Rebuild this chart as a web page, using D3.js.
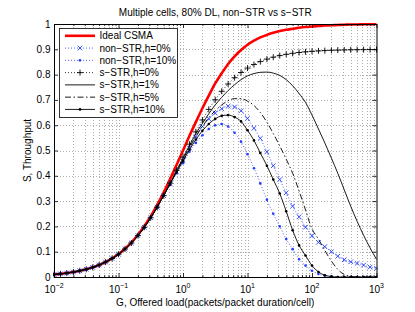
<!DOCTYPE html>
<html>
<head>
<meta charset="utf-8">
<script src="https://cdn.jsdelivr.net/npm/d3@7"></script>
<style>
body { margin: 0; background: #fff; }
svg { display: block; font-family: "Liberation Sans", Arial, sans-serif; }
</style>
</head>
<body>
<svg id="chart" width="415" height="312"></svg>
<script>

// offered load G (packets/packet duration/cell), 10 points per decade
var G = [0.01, 0.0126, 0.0158, 0.02, 0.0251, 0.0316, 0.0398, 0.0501, 0.0631, 0.0794,
         0.1, 0.126, 0.158, 0.2, 0.251, 0.316, 0.398, 0.501, 0.631, 0.794,
         1, 1.26, 1.58, 2, 2.51, 3.16, 3.98, 5.01, 6.31, 7.94,
         10, 12.6, 15.8, 20, 25.1, 31.6, 39.8, 50.1, 63.1, 79.4,
         100, 126, 158, 200, 251, 316, 398, 501, 631, 794, 1000];

var idealCSMA = [.0099, .0124, .0156, .0196, .0245, .0306, .0383, .0477, .0594, .0736,
                 .0909, .112, .136, .167, .201, .240, .285, .334, .387, .443,
                 .500, .558, .612, .667, .717, .765, .805, .842, .872, .897,
                 .918, .934, .947, .957, .965, .972, .977, .981, .985, .988,
                 .990, .992, .994, .995, .996, .997, .998, .998, .999, .999, 1.0];

var nonSTR0 = [.0099, .0124, .0155, .0196, .0244, .0305, .0381, .0475, .059, .073,
               .09, .1105, .1344, .1636, .1963, .2339, .276, .3218, .368, .415,
               .46, .51, .555, .595, .625, .648, .665, .675, .672, .657,
               .627, .588, .548, .495, .44, .385, .333, .28, .238, .197,
               .163, .137, .12, .10, .082, .068, .06, .054, .047, .039, .034];

var nonSTR10 = [.0099, .0124, .0155, .0196, .0244, .0305, .0381, .0475, .059, .073,
                .09, .1105, .1344, .1636, .1963, .2339, .276, .3218, .365, .41,
                .45, .495, .53, .56, .585, .60, .605, .595, .57, .535,
                .485, .43, .37, .305, .25, .20, .15, .11, .07, .045,
                .025, .012, .005, .002, 0, 0, 0, 0, 0, 0, 0];

var sSTR0 = [.0099, .0124, .0155, .0196, .0244, .0305, .0381, .0475, .059, .073,
             .09, .1105, .1344, .1636, .1963, .2339, .276, .3218, .3709, .4218,
             .4737, .525, .5738, .6207, .6625, .7005, .734, .7629, .7877, .8084,
             .8257, .84, .8515, .8612, .8688, .8751, .8801, .8841, .8873, .8899,
             .892, .8936, .8949, .896, .8968, .8974, .898, .8984, .8987, .899, .8992];

var sSTR1 = [.0099, .0124, .0155, .0196, .0244, .0305, .0381, .0475, .059, .073,
             .09, .1105, .1344, .1636, .1963, .2339, .276, .3218, .37, .42,
             .47, .52, .566, .607, .645, .68, .71, .737, .76, .78,
             .795, .804, .809, .81, .806, .797, .78, .756, .725, .69,
             .64, .585, .53, .47, .41, .345, .28, .22, .165, .115, .07];

var sSTR5 = [.0099, .0124, .0155, .0196, .0244, .0305, .0381, .0475, .059, .073,
             .09, .1105, .1344, .1636, .1963, .2339, .276, .3218, .369, .418,
             .465, .512, .555, .595, .63, .657, .68, .697, .705, .705,
             .695, .678, .65, .612, .567, .518, .466, .41, .34, .265,
             .19, .15, .105, .063, .03, .01, .003, 0, 0, 0, 0];

var sSTR10 = [.0099, .0124, .0155, .0196, .0244, .0305, .0381, .0475, .059, .073,
              .09, .1105, .1344, .1636, .1963, .2339, .276, .3218, .367, .414,
              .458, .503, .543, .578, .605, .625, .637, .64, .632, .615,
              .58, .54, .49, .44, .385, .33, .26, .185, .125, .085,
              .045, .02, .007, .002, 0, 0, 0, 0, 0, 0, 0];

var seriesNames = ["Ideal CSMA", "non\u2212STR,h=0%", "non\u2212STR,h=10%", "s\u2212STR,h=0%",
                   "s\u2212STR,h=1%", "s\u2212STR,h=5%", "s\u2212STR,h=10%"];
var seriesValues = [idealCSMA, nonSTR0, nonSTR10, sSTR0, sSTR1, sSTR5, sSTR10];

var decades = [-2, -1, 0, 1, 2, 3];
var yTicks = [0, 0.1, 0.2, 0.3, 0.4, 0.5, 0.6, 0.7, 0.8, 0.9, 1];

// how each series is drawn
var styles = [
  {color: "#ff0000", width: 2.6, dash: null, marker: null},
  {color: "#1f3cff", width: 0.8, dash: "1,2", marker: "x"},
  {color: "#1f3cff", width: 0.8, dash: "1,2", marker: "dot"},
  {color: "#000", width: 0.8, dash: "1,2", marker: "plus"},
  {color: "#000", width: 0.9, dash: null, marker: null},
  {color: "#000", width: 0.9, dash: "6,2.5,1.5,2.5", marker: null},
  {color: "#000", width: 0.9, dash: null, marker: "dot"}
];

var margin = {top: 24, right: 38.5, bottom: 35, left: 54};
var width = 415 - margin.left - margin.right;
var height = 312 - margin.top - margin.bottom;

var svg = d3.select("#chart");
var g = svg.append("g").attr("transform", "translate(" + margin.left + "," + margin.top + ")");

var x = d3.scaleLog().domain([0.01, 1000]).range([0, width]);
var y = d3.scaleLinear().domain([0, 1]).range([height, 0]);

// minor tick positions 2..9 in each decade
var minor = [];
decades.slice(0, -1).forEach(function(k) {
  for (var m = 2; m <= 9; m++) minor.push(m * Math.pow(10, k));
});
var majors = decades.map(function(k) { return Math.pow(10, k); });

function crisp(v) { return Math.round(v) + 0.5; }

// grid
var grid = g.append("g").attr("stroke", "#9a9a9a").attr("stroke-dasharray", "1,2").attr("stroke-width", 0.8);
grid.selectAll("line.v")
    .data(minor.concat(majors.slice(1, -1)))
  .enter().append("line")
    .attr("x1", function(d) { return crisp(x(d)); })
    .attr("x2", function(d) { return crisp(x(d)); })
    .attr("y1", 0).attr("y2", height);
grid.selectAll("line.h")
    .data(yTicks.slice(1, -1))
  .enter().append("line")
    .attr("y1", function(d) { return crisp(y(d)); })
    .attr("y2", function(d) { return crisp(y(d)); })
    .attr("x1", 0).attr("x2", width);

// curves
g.append("clipPath").attr("id", "plotclip")
  .append("rect").attr("x", -1).attr("y", -1).attr("width", width + 2).attr("height", height + 2);

var plot = g.append("g").attr("clip-path", "url(#plotclip)");

var line = d3.line()
    .x(function(d) { return x(d.g); })
    .y(function(d) { return y(d.s); })
    .curve(d3.curveMonotoneX);

function drawMarker(sel, type, color) {
  if (type === "x") {
    sel.append("path").attr("d", "M-2.3,-2.3L2.3,2.3M-2.3,2.3L2.3,-2.3")
      .attr("stroke", color).attr("stroke-width", 0.9).attr("fill", "none");
  } else if (type === "plus") {
    sel.append("path").attr("d", "M-3,0H3M0,-3V3")
      .attr("stroke", color).attr("stroke-width", 0.9).attr("fill", "none");
  } else if (type === "dot") {
    sel.append("circle").attr("r", 1.3).attr("fill", color);
  }
}

seriesValues.forEach(function(vals, i) {
  var st = styles[i];
  var data = G.map(function(gv, j) { return {g: gv, s: vals[j]}; });
  plot.append("path")
      .datum(data)
      .attr("fill", "none")
      .attr("stroke", st.color)
      .attr("stroke-width", st.width)
      .attr("stroke-dasharray", st.dash)
      .attr("d", line);
  if (st.marker) {
    plot.append("g").selectAll("g")
        .data(data)
      .enter().append("g")
        .attr("transform", function(d) { return "translate(" + x(d.g) + "," + y(d.s) + ")"; })
        .each(function() { drawMarker(d3.select(this), st.marker, st.color); });
  }
});

// axes box with inward ticks on all sides
var axes = g.append("g");
axes.append("g").attr("transform", "translate(0," + height + ")")
    .call(d3.axisBottom(x).tickValues(majors).tickSize(-4).tickSizeOuter(0).tickFormat(""));
axes.append("g").attr("transform", "translate(0," + height + ")")
    .call(d3.axisBottom(x).tickValues(minor).tickSize(-2).tickSizeOuter(0).tickFormat(""));
axes.append("g")
    .call(d3.axisTop(x).tickValues(majors).tickSize(-4).tickSizeOuter(0).tickFormat(""));
axes.append("g")
    .call(d3.axisTop(x).tickValues(minor).tickSize(-2).tickSizeOuter(0).tickFormat(""));
axes.append("g")
    .call(d3.axisLeft(y).tickValues(yTicks).tickSize(-4).tickSizeOuter(0).tickFormat(""));
axes.append("g").attr("transform", "translate(" + width + ",0)")
    .call(d3.axisRight(y).tickValues(yTicks).tickSize(-4).tickSizeOuter(0).tickFormat(""));
axes.selectAll("path.domain").attr("stroke", "#000").attr("stroke-width", 1);
axes.selectAll(".tick line").attr("stroke", "#000").attr("stroke-width", 0.8);

// tick labels
var xl = g.append("g").attr("font-size", 10).attr("fill", "#000");
xl.selectAll("text")
    .data(decades)
  .enter().append("text")
    .attr("x", function(d) { return x(Math.pow(10, d)); })
    .attr("y", height + 15.5)
    .attr("text-anchor", "middle")
    .each(function(d) {
      var t = d3.select(this);
      t.append("tspan").text("10");
      t.append("tspan").attr("dy", -4.5).attr("font-size", 7)
        .text(d < 0 ? "\u2212" + (-d) : String(d));
    });

g.append("g").attr("font-size", 10)
  .selectAll("text")
    .data(yTicks)
  .enter().append("text")
    .attr("x", -3.5)
    .attr("y", function(d) { return y(d); })
    .attr("dy", "0.35em")
    .attr("text-anchor", "end")
    .text(function(d) { return d3.format("")(d); });

// titles
svg.append("text")
    .attr("x", margin.left + width / 2).attr("y", 16)
    .attr("text-anchor", "middle").attr("font-size", 10)
    .text("Multiple cells, 80% DL, non\u2212STR vs s\u2212STR");

svg.append("text")
    .attr("x", margin.left + width / 2).attr("y", 305.5)
    .attr("text-anchor", "middle").attr("font-size", 10)
    .text("G, Offered load(packets/packet duration/cell)");

svg.append("text")
    .attr("transform", "translate(31," + (margin.top + height / 2) + ")rotate(-90)")
    .attr("text-anchor", "middle").attr("font-size", 10)
    .text("S, Throughput");

// legend
var leg = svg.append("g");
leg.append("rect")
    .attr("x", 59.5).attr("y", 28.5).attr("width", 118).attr("height", 89)
    .attr("fill", "#fff").attr("stroke", "#000").attr("stroke-width", 0.8);

var rows = leg.selectAll("g.row")
    .data(seriesNames)
  .enter().append("g")
    .attr("transform", function(d, i) { return "translate(0," + (35.8 + i * 12.27) + ")"; });

rows.append("line")
    .attr("x1", 65).attr("x2", 95).attr("y1", 0).attr("y2", 0)
    .attr("stroke", function(d, i) { return styles[i].color; })
    .attr("stroke-width", function(d, i) { return styles[i].width; })
    .attr("stroke-dasharray", function(d, i) { return styles[i].dash; });

rows.each(function(d, i) {
  if (styles[i].marker) {
    drawMarker(d3.select(this).append("g").attr("transform", "translate(80,0)"), styles[i].marker, styles[i].color);
  }
});

rows.append("text")
    .attr("x", 99.5).attr("y", 0).attr("dy", "0.35em")
    .attr("font-size", 10)
    .text(function(d) { return d; });

</script>
</body>
</html>
